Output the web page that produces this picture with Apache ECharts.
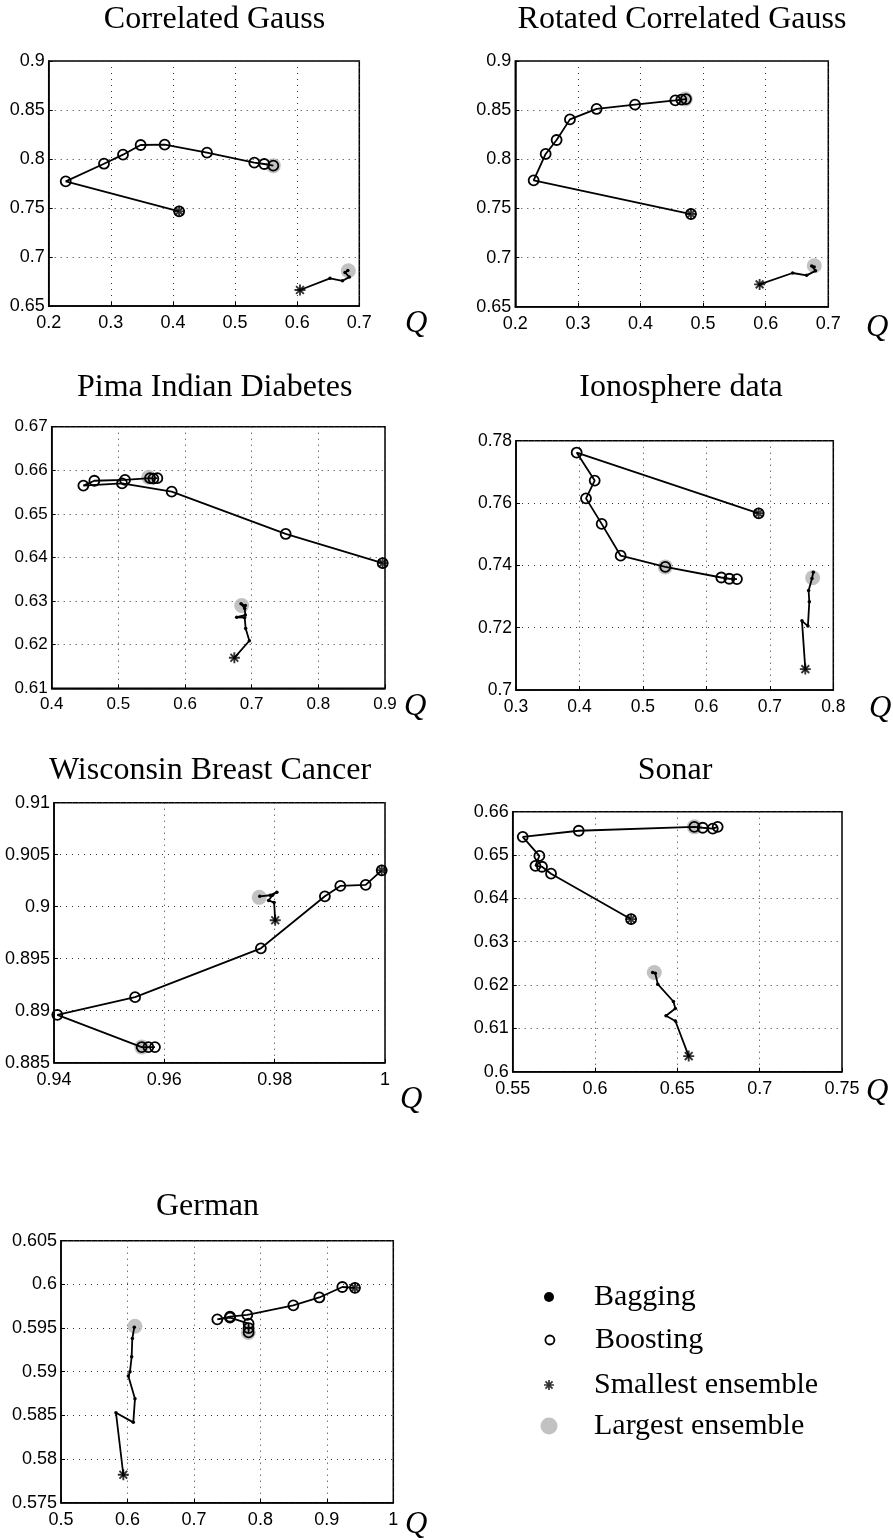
<!DOCTYPE html>
<html><head><meta charset="utf-8">
<script src="https://cdn.jsdelivr.net/npm/echarts@6/dist/echarts.min.js"></script>
<style>html,body{margin:0;padding:0;background:#fff}#c{width:893px;height:1540px}</style>
</head><body><div id="c"></div>
<script>
// ---------------- DATA (x = Q diversity, y = accuracy) ----------------
const panelTitles = ['Correlated Gauss','Rotated Correlated Gauss','Pima Indian Diabetes','Ionosphere data','Wisconsin Breast Cancer','Sonar','German'];
const axisName = 'Q';

const xMins = [0.2, 0.2, 0.4, 0.3, 0.94, 0.55, 0.5];
const xMaxs = [0.7, 0.7, 0.9, 0.8, 1.0, 0.75, 1.0];
const xSteps = [0.1, 0.1, 0.1, 0.1, 0.02, 0.05, 0.1];
const yMins = [0.65, 0.65, 0.61, 0.7, 0.885, 0.6, 0.575];
const yMaxs = [0.9, 0.9, 0.67, 0.78, 0.91, 0.66, 0.605];
const ySteps = [0.05, 0.05, 0.01, 0.02, 0.005, 0.01, 0.005];

// Boosting paths (first point = smallest ensemble)
const corrGaussBoosting = [[0.410,0.7466],[0.2274,0.7772],[0.289,0.7952],[0.3196,0.8044],[0.348,0.8143],[0.3867,0.8146],[0.4548,0.8065],[0.531,0.7963],[0.547,0.7949],[0.5616,0.7932]];
const rotGaussBoosting = [[0.4806,0.7443],[0.2293,0.7786],[0.2485,0.8054],[0.266,0.8196],[0.2873,0.8406],[0.3299,0.8512],[0.3912,0.8556],[0.4556,0.8600],[0.4652,0.8607],[0.4726,0.8613]];
const pimaBoosting = [[0.8965,0.6387],[0.751,0.6454],[0.58,0.6551],[0.5055,0.6570],[0.4475,0.6565],[0.464,0.6576],[0.51,0.6578],[0.5475,0.6582],[0.5525,0.6581],[0.5585,0.6582]];
const ionoBoosting = [[0.6824,0.7567],[0.3956,0.7762],[0.424,0.7672],[0.4103,0.7615],[0.435,0.7533],[0.4649,0.7431],[0.5353,0.7395],[0.6235,0.7361],[0.6361,0.7357],[0.6482,0.7356]];
const wiscBoosting = [[0.9994,0.9035],[0.9965,0.9021],[0.9919,0.9020],[0.9891,0.9010],[0.9775,0.8960],[0.9547,0.8913],[0.9406,0.8896],[0.9559,0.8865],[0.9571,0.8865],[0.9583,0.8865]];
const sonarBoosting = [[0.6219,0.6352],[0.5733,0.6457],[0.5678,0.6473],[0.5638,0.6475],[0.5662,0.6498],[0.5561,0.6542],[0.5901,0.6556],[0.6603,0.6565],[0.6654,0.6563],[0.6715,0.6561],[0.6745,0.6565]];
const germanBoosting = [[0.9423,0.5996],[0.9233,0.5997],[0.8887,0.5985],[0.8496,0.5976],[0.7803,0.5965],[0.7543,0.5963],[0.7352,0.5960],[0.7543,0.5962],[0.7823,0.5955],[0.7823,0.5950],[0.7823,0.5945]];

// Bagging paths (first point = smallest ensemble)
const corrGaussBagging = [[0.6045,0.6663],[0.6528,0.6782],[0.673,0.6757],[0.684,0.6795],[0.677,0.6843],[0.6815,0.6862]];
const rotGaussBagging = [[0.5903,0.6727],[0.643,0.6843],[0.6654,0.6819],[0.6795,0.6865],[0.6735,0.6915],[0.6775,0.6905]];
const pimaBagging = [[0.674,0.6170],[0.6965,0.6209],[0.691,0.6237],[0.6895,0.6262],[0.6775,0.6263],[0.6905,0.6268],[0.6895,0.6283],[0.684,0.6294],[0.6905,0.6290]];
const ionoBagging = [[0.7559,0.7067],[0.7506,0.7222],[0.760,0.7205],[0.7622,0.7283],[0.7611,0.7319],[0.7664,0.7358],[0.7685,0.7378]];
const wiscBagging = [[0.9801,0.8987],[0.9799,0.9004],[0.9789,0.9006],[0.9796,0.9011],[0.9804,0.9014],[0.9792,0.9011],[0.9773,0.9010]];
const sonarBagging = [[0.6569,0.6036],[0.6488,0.6117],[0.6431,0.6129],[0.6488,0.6146],[0.6476,0.6162],[0.6381,0.6202],[0.6366,0.6227],[0.635,0.6229]];
const germanBagging = [[0.5938,0.5782],[0.5827,0.5853],[0.6088,0.5842],[0.6113,0.5869],[0.6013,0.5895],[0.6038,0.5900],[0.6063,0.5917],[0.6073,0.5938],[0.6103,0.5951]];

// Largest ensemble points: [boosting, bagging]
const corrGaussLargest = [[0.5616,0.7932],[0.6823,0.6860]];
const rotGaussLargest = [[0.4716,0.8613],[0.6776,0.6917]];
const pimaLargest = [[0.5455,0.6584],[0.685,0.6290]];
const ionoLargest = [[0.5353,0.7395],[0.7674,0.7360]];
const wiscLargest = [[0.9559,0.8865],[0.9772,0.9009]];
const sonarLargest = [[0.6603,0.6565],[0.636,0.6229]];
const germanLargest = [[0.7818,0.5945],[0.6113,0.5952]];

const legendNames = ['Bagging','Boosting','Smallest ensemble','Largest ensemble'];

const boostingSets = [corrGaussBoosting, rotGaussBoosting, pimaBoosting, ionoBoosting, wiscBoosting, sonarBoosting, germanBoosting];
const baggingSets = [corrGaussBagging, rotGaussBagging, pimaBagging, ionoBagging, wiscBagging, sonarBagging, germanBagging];
const largestSets = [corrGaussLargest, rotGaussLargest, pimaLargest, ionoLargest, wiscLargest, sonarLargest, germanLargest];

// ---------------- LAYOUT / STYLE ----------------
const GRIDS = [
  [48.7, 61, 310.6, 245],
  [515.3, 61, 313, 245.7],
  [51.7, 426.7, 333.3, 261.6],
  [516, 440.7, 317.3, 249.3],
  [54, 802.7, 331, 260],
  [512.7, 811.7, 329.3, 260],
  [61, 1240.7, 332.3, 262]
];
const TITLE_POS = [[214.5, 4], [682, 4], [214.7, 372], [681, 372], [210, 755], [675, 755], [207.5, 1191]];
const TICK_FS = [18, 18, 17, 17.5, 18, 18, 18];
const Q_POS = [[416, 324], [877, 328], [415, 707], [880, 709], [411, 1100], [877, 1092], [416, 1525]];

function asteriskPath() {
  const R = 10, w = 1.7;
  let d = '';
  [0, 45, 90, 135].forEach(a => {
    const t = a * Math.PI / 180, c = Math.cos(t), s = Math.sin(t);
    const nx = -s, ny = c;
    const pts = [[R*c + w*nx, R*s + w*ny], [-R*c + w*nx, -R*s + w*ny], [-R*c - w*nx, -R*s - w*ny], [R*c - w*nx, R*s - w*ny]];
    d += 'M' + pts.map(p => p[0].toFixed(3) + ' ' + p[1].toFixed(3)).join(' L') + ' Z ';
  });
  return 'path://' + d;
}
const ASTER = asteriskPath();
const GRAY = '#b3b3b3';

const grid = [], xAxis = [], yAxis = [], series = [], title = [], graphic = [];
for (let i = 0; i < 7; i++) {
  const g = GRIDS[i];
  grid.push({left: g[0], top: g[1], width: g[2], height: g[3], show: true, borderColor: '#000', borderWidth: 1.5, backgroundColor: 'transparent'});
  title.push({text: panelTitles[i], left: TITLE_POS[i][0], top: TITLE_POS[i][1], textAlign: 'center', padding: 0,
    textStyle: {fontFamily: 'Liberation Serif', fontSize: 32, fontWeight: 'normal', color: '#000'}});
  graphic.push({type: 'text', left: Q_POS[i][0] - 11, top: Q_POS[i][1] - 16, silent: true,
    style: {text: axisName, font: 'italic 31px "Liberation Serif"', fill: '#000'}});
  const common = {
    gridIndex: i, type: 'value',
    axisLine: {show: true, onZero: false, lineStyle: {color: '#000', width: 1.5}},
    axisTick: {show: true, inside: true, length: 4, lineStyle: {color: '#000', width: 1}},
    splitLine: {show: true, lineStyle: {color: '#333', type: [1, 5], width: 1}},
  };
  xAxis.push(Object.assign({}, common, {
    min: xMins[i], max: xMaxs[i], interval: xSteps[i],
    axisLabel: {fontFamily: 'Liberation Sans', fontSize: TICK_FS[i], color: '#000', margin: 8}
  }));
  yAxis.push(Object.assign({}, common, {
    min: yMins[i], max: yMaxs[i], interval: ySteps[i],
    axisLabel: {fontFamily: 'Liberation Sans', fontSize: TICK_FS[i], color: '#000', margin: 4}
  }));
  const base = {xAxisIndex: i, yAxisIndex: i, animation: false, clip: false, emphasis: {disabled: true}, silent: true};
  series.push(Object.assign({}, base, {
    name: 'Largest ensemble', type: 'scatter', data: largestSets[i], symbol: 'circle', symbolSize: 15,
    itemStyle: {color: GRAY}, z: 1
  }));
  series.push(Object.assign({}, base, {
    name: 'Bagging', type: 'line', data: baggingSets[i], symbol: 'circle', symbolSize: 3.5, showSymbol: true, showAllSymbol: true,
    itemStyle: {color: '#000'}, lineStyle: {color: '#000', width: 1.8}, z: 2
  }));
  series.push(Object.assign({}, base, {
    name: 'Boosting', type: 'line', data: boostingSets[i], symbol: 'circle', symbolSize: 10, showSymbol: true, showAllSymbol: true,
    itemStyle: {color: 'rgba(0,0,0,0)', borderColor: '#000', borderWidth: 1.8}, lineStyle: {color: '#000', width: 1.8}, z: 3
  }));
  series.push(Object.assign({}, base, {
    name: 'Smallest ensemble', type: 'scatter', data: [baggingSets[i][0], boostingSets[i][0]], symbol: ASTER, symbolSize: 11,
    itemStyle: {color: '#000'}, z: 4
  }));
}

const LEG_CY = [1297, 1340, 1385, 1426];
const LEG_ICON = ['circle', 'circle', ASTER, 'circle'];
const LEG_H = [10, 9, 10, 17];
const LEG_STYLE = [
  {color: '#000', borderWidth: 0},
  {color: 'rgba(0,0,0,0)', borderColor: '#000', borderWidth: 1.8},
  {color: '#000', borderWidth: 0},
  {color: GRAY, borderWidth: 0}
];
const legend = legendNames.map((name, k) => ({
  data: [{name: name, icon: LEG_ICON[k], itemStyle: LEG_STYLE[k]}],
  left: 549 - LEG_H[k] / 2, top: LEG_CY[k] - 15, padding: 0,
  itemWidth: 80, itemHeight: LEG_H[k], symbolKeepAspect: true, selectedMode: false,
  itemStyle: LEG_STYLE[k],
  textStyle: {fontFamily: 'Liberation Serif', fontSize: 30, color: '#000'}
}));

const chart = echarts.init(document.getElementById('c'), null, {renderer: 'canvas'});
chart.setOption({backgroundColor: '#fff', animation: false, title, grid, xAxis, yAxis, series, legend, graphic});
</script></body></html>
